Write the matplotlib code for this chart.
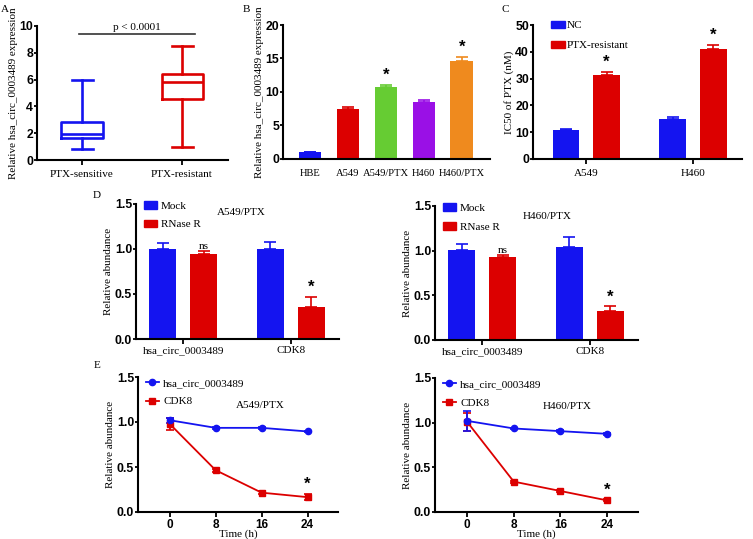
import numpy as np
import matplotlib.pyplot as plt
from matplotlib.patches import Patch
from matplotlib.lines import Line2D

# ---- data ----
# panel A (box summary)
box_groups = ['PTX-sensitive', 'PTX-resistant']
box_min = [0.8, 1.0]
box_q1 = [1.65, 4.55]
box_med = [1.95, 5.8]
box_q3 = [2.85, 6.45]
box_max = [6.0, 8.5]

# panel B
b_cells = ['HBE', 'A549', 'A549/PTX', 'H460', 'H460/PTX']
b_vals = [1.0, 7.5, 10.7, 8.5, 14.7]
b_err = [0.1, 0.3, 0.35, 0.35, 0.5]
b_star = [False, False, True, False, True]

# panel C
c_cells = ['A549', 'H460']
c_nc = [10.8, 15.0]
c_nc_err = [0.5, 0.8]
c_res = [31.5, 41.0]
c_res_err = [0.8, 1.5]

# panel D
d_genes = ['hsa_circ_0003489', 'CDK8']
d_a549_mock = [1.0, 1.0]
d_a549_mock_err = [0.07, 0.075]
d_a549_rnase = [0.95, 0.36]
d_a549_rnase_err = [0.025, 0.11]
d_h460_mock = [1.01, 1.04]
d_h460_mock_err = [0.07, 0.11]
d_h460_rnase = [0.93, 0.32]
d_h460_rnase_err = [0.02, 0.06]

# panel E
e_time = [0, 8, 16, 24]
e_a549_circ = [1.02, 0.935, 0.935, 0.895]
e_a549_circ_err = [0.03, 0.01, 0.01, 0.01]
e_a549_cdk8 = [0.98, 0.465, 0.215, 0.165]
e_a549_cdk8_err = [0.07, 0.015, 0.015, 0.035]
e_h460_circ = [1.02, 0.935, 0.905, 0.875]
e_h460_circ_err = [0.11, 0.01, 0.01, 0.01]
e_h460_cdk8 = [1.01, 0.34, 0.235, 0.13]
e_h460_cdk8_err = [0.1, 0.01, 0.01, 0.01]

BLUE = '#1414f0'
RED = '#dc0000'
GREEN = '#66cc33'
PURPLE = '#9a10e6'
ORANGE = '#ef8a1e'

SERIF = 'Liberation Serif'
SANS = 'Liberation Sans'
FS = 8

W, H = 753, 539
fig = plt.figure(figsize=(7.53, 5.39), dpi=100)


def make_ax(l, r, t, b):
    return fig.add_axes([l / W, 1 - b / H, (r - l) / W, (b - t) / H])


def style(ax):
    for s in ['top', 'right']:
        ax.spines[s].set_visible(False)
    for s in ['left', 'bottom']:
        ax.spines[s].set_linewidth(1.5)
    ax.tick_params(width=1.3, length=3.5, direction='out', pad=1.5)
    ax.tick_params(axis='y', length=2.5, pad=0.3)
    for lab in ax.get_yticklabels():
        lab.set_fontfamily(SANS)
        lab.set_fontweight('bold')
        lab.set_fontsize(8.8)


def star(ax, x, y):
    ax.text(x, y, '*', ha='center', va='bottom', fontsize=12,
            fontfamily=SANS, fontweight='bold')


def panel(x, y, s):
    fig.text(x / W, 1 - y / H, s, fontfamily=SERIF, fontsize=FS, ha='center', va='center')


def ylab(ax, s):
    ax.set_ylabel(s, fontfamily=SERIF, fontsize=FS, labelpad=1)


# ---- A ----
axA = make_ax(37, 228, 26, 160)
for i, c in enumerate([BLUE, RED]):
    st = dict(whislo=box_min[i], q1=box_q1[i], med=box_med[i],
              q3=box_q3[i], whishi=box_max[i], fliers=[])
    axA.bxp([st], positions=[i + 1], widths=0.41, showfliers=False,
            boxprops=dict(color=c, lw=1.9), medianprops=dict(color=c, lw=1.9),
            whiskerprops=dict(color=c, lw=1.9), capprops=dict(color=c, lw=1.9),
            capwidths=0.21)
axA.set_xlim(0.55, 2.46)
axA.set_ylim(0, 10)
axA.set_yticks([0, 2, 4, 6, 8, 10])
axA.set_xticks([1, 2])
axA.set_xticklabels(box_groups, fontfamily=SERIF, fontsize=FS)
ylab(axA, 'Relative hsa_circ_0003489 expression')
axA.plot([0.97, 2.13], [9.4, 9.4], color='#333333', lw=1.2)
axA.text(1.55, 9.55, 'p < 0.0001', ha='center', va='bottom', fontfamily=SERIF, fontsize=FS)
style(axA)
axA.tick_params(axis='x', pad=4)
panel(5, 10, 'A')

# ---- B ----
axB = make_ax(283, 490, 25, 159)
xb = np.arange(len(b_cells))
colsB = [BLUE, RED, GREEN, PURPLE, ORANGE]
axB.bar(xb, b_vals, width=0.6, color=colsB)
for i in range(len(b_cells)):
    axB.errorbar(xb[i], b_vals[i], yerr=[[0], [b_err[i]]], color=colsB[i],
                 capsize=4, lw=1.2, capthick=1.2)
    if b_star[i]:
        star(axB, xb[i], b_vals[i] + b_err[i] + 0.4)
axB.set_xlim(-0.71, 4.74)
axB.set_ylim(0, 20)
axB.set_yticks([0, 5, 10, 15, 20])
axB.set_xticks(xb)
axB.set_xticklabels(b_cells, fontfamily=SERIF, fontsize=7.6)
ylab(axB, 'Relative hsa_circ_0003489 expression')
style(axB)
axB.tick_params(axis='x', length=0, pad=7)
panel(246, 10, 'B')

# ---- C ----
axC = make_ax(533, 742, 25, 159)
xc = np.arange(len(c_cells))
off = 0.19
axC.bar(xc - off, c_nc, width=0.25, color=BLUE)
axC.bar(xc + off, c_res, width=0.25, color=RED)
axC.errorbar(xc - off, c_nc, yerr=[np.zeros(2), c_nc_err], fmt='none',
             ecolor=BLUE, capsize=4, lw=1.2, capthick=1.2)
axC.errorbar(xc + off, c_res, yerr=[np.zeros(2), c_res_err], fmt='none',
             ecolor=RED, capsize=4, lw=1.2, capthick=1.2)
for i in range(2):
    star(axC, xc[i] + off, c_res[i] + c_res_err[i] + 1.0)
axC.set_xlim(-0.5, 1.46)
axC.set_ylim(0, 50)
axC.set_yticks([0, 10, 20, 30, 40, 50])
axC.set_xticks(xc)
axC.set_xticklabels(c_cells, fontfamily=SERIF, fontsize=FS)
ylab(axC, 'IC50 of PTX (nM)')
axC.legend(handles=[Patch(color=BLUE, label='NC'), Patch(color=RED, label='PTX-resistant')],
           loc='upper left', bbox_to_anchor=(0.05, 1.09), frameon=False,
           prop={'family': SERIF, 'size': FS}, handlelength=1.2, handleheight=0.65,
           handletextpad=0.15, labelspacing=0.95, borderaxespad=0.3)
style(axC)
axC.tick_params(axis='x', pad=4)
panel(505, 10, 'C')


# ---- D ----
def panel_d(ax, mock, mock_err, rnase, rnase_err, title, tx, ty):
    x = np.arange(len(d_genes))
    ax.bar(x - off, mock, width=0.25, color=BLUE)
    ax.bar(x + off, rnase, width=0.25, color=RED)
    ax.errorbar(x - off, mock, yerr=[np.zeros(2), mock_err], fmt='none',
                ecolor=BLUE, capsize=4, lw=1.2, capthick=1.2)
    ax.errorbar(x + off, rnase, yerr=[np.zeros(2), rnase_err], fmt='none',
                ecolor=RED, capsize=4, lw=1.2, capthick=1.2)
    ax.text(x[0] + off, rnase[0] + rnase_err[0] + 0.005, 'ns', ha='center', va='bottom',
            fontfamily=SERIF, fontsize=FS)
    star(ax, x[1] + off, rnase[1] + rnase_err[1] + 0.02)
    ax.set_xlim(-0.44, 1.45)
    ax.set_ylim(0, 1.5)
    ax.set_yticks([0, 0.5, 1.0, 1.5])
    ax.set_yticklabels(['0.0', '0.5', '1.0', '1.5'])
    ax.set_xticks(x)
    ax.set_xticklabels(d_genes, fontfamily=SERIF, fontsize=FS)
    ylab(ax, 'Relative abundance')
    ax.text(tx, ty, title, transform=ax.transAxes, ha='center', va='center',
            fontfamily=SERIF, fontsize=FS)
    ax.legend(handles=[Patch(color=BLUE, label='Mock'), Patch(color=RED, label='RNase R')],
              loc='upper left', bbox_to_anchor=(0.0, 1.08), frameon=False,
              prop={'family': SERIF, 'size': FS}, handlelength=1.2, handleheight=0.7,
              handletextpad=0.35, labelspacing=0.8, borderaxespad=0.3)
    style(ax)


axD1 = make_ax(136, 339, 204, 339)
panel_d(axD1, d_a549_mock, d_a549_mock_err, d_a549_rnase, d_a549_rnase_err, 'A549/PTX', 0.52, 0.94)
axD2 = make_ax(435, 638, 206, 340)
panel_d(axD2, d_h460_mock, d_h460_mock_err, d_h460_rnase, d_h460_rnase_err, 'H460/PTX', 0.55, 0.92)
panel(97, 196, 'D')


# ---- E ----
def panel_e(ax, circ, circ_err, cdk8, cdk8_err, title, tx):
    ax.errorbar(e_time, cdk8, yerr=cdk8_err, color=RED, marker='s', ms=5,
                lw=1.3, capsize=3, capthick=1.2)
    ax.errorbar(e_time, circ, yerr=circ_err, color=BLUE, marker='o', ms=4.5,
                lw=1.3, capsize=3, capthick=1.2)
    star(ax, e_time[-1], cdk8[-1] + cdk8_err[-1] + 0.02)
    ax.set_xlim(-5.5, 29.3)
    ax.set_ylim(0, 1.5)
    ax.set_yticks([0, 0.5, 1.0, 1.5])
    ax.set_yticklabels(['0.0', '0.5', '1.0', '1.5'])
    ax.set_xticks(e_time)
    ax.set_xticklabels([str(t) for t in e_time], fontfamily=SANS, fontweight='bold', fontsize=8.5)
    ax.set_xlabel('Time (h)', fontfamily=SERIF, fontsize=FS, labelpad=-1)
    ylab(ax, 'Relative abundance')
    ax.text(tx, 0.79, title, transform=ax.transAxes, ha='center', va='center',
            fontfamily=SERIF, fontsize=FS)
    ax.legend(handles=[Line2D([], [], color=BLUE, marker='o', ms=4.5, lw=1.3, label='hsa_circ_0003489'),
                       Line2D([], [], color=RED, marker='s', ms=5, lw=1.3, label='CDK8')],
              loc='upper left', bbox_to_anchor=(0.0, 1.05), frameon=False,
              prop={'family': SERIF, 'size': FS}, handlelength=1.2,
              handletextpad=0.35, labelspacing=0.8, borderaxespad=0.3)
    style(ax)


axE1 = make_ax(138, 338, 377, 512)
panel_e(axE1, e_a549_circ, e_a549_circ_err, e_a549_cdk8, e_a549_cdk8_err, 'A549/PTX', 0.61)
axE2 = make_ax(435, 638, 378, 512)
panel_e(axE2, e_h460_circ, e_h460_circ_err, e_h460_cdk8, e_h460_cdk8_err, 'H460/PTX', 0.65)
panel(97, 366, 'E')

fig.savefig('out.png', dpi=100)
